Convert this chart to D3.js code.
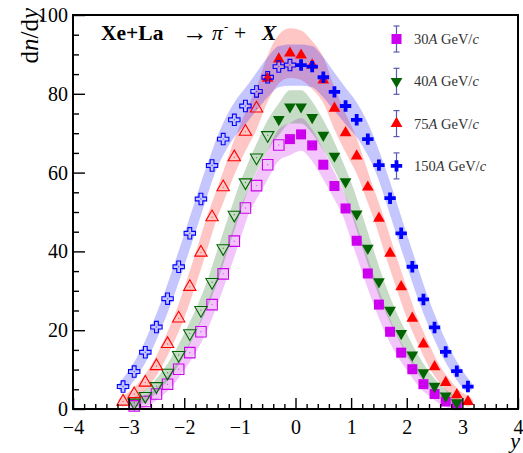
<!DOCTYPE html>
<html>
<head>
<meta charset="utf-8">
<script src="https://cdn.jsdelivr.net/npm/d3@7"></script>
<style>
  body { margin: 0; background: #fff; }
  svg { display: block; font-family: 'Liberation Serif', 'DejaVu Serif', serif; }
</style>
</head>
<body>
<svg id="chart" width="523" height="453"></svg>
<script>
// beam momenta (A GeV/c)
const energies = ['30', '40', '75', '150'];

// measured points (filled markers)
const rap30 = [-0.1, 0.1, 0.3, 0.5, 0.7, 0.9, 1.1, 1.3, 1.5, 1.7, 1.9, 2.1, 2.3, 2.5, 2.7, 2.9];
const val30 = [68.5, 69.7, 66.9, 62.0, 56.6, 50.9, 42.7, 34.4, 26.5, 19.6, 14.3, 10.1, 6.3, 3.8, 1.9, 1.0];
const rap40 = [-0.3, -0.1, 0.1, 0.3, 0.5, 0.7, 0.9, 1.1, 1.3, 1.5, 1.7, 1.9, 2.1, 2.3, 2.5, 2.7, 2.9];
const val40 = [73.5, 76.7, 76.7, 74.0, 69.5, 64.2, 57.7, 49.5, 40.8, 32.3, 25.1, 19.2, 13.7, 9.2, 5.8, 3.3, 1.6];
const rap75 = [-0.5, -0.3, -0.1, 0.1, 0.3, 0.5, 0.7, 0.9, 1.1, 1.3, 1.5, 1.7, 1.9, 2.1, 2.3, 2.5, 2.7, 2.9, 3.1];
const val75 = [83.9, 88.8, 90.3, 89.8, 87.3, 83.5, 76.3, 70.1, 64.2, 56.3, 48.4, 39.5, 31.0, 23.0, 16.5, 10.7, 6.7, 3.6, 1.9];
const rap150 = [0.1, 0.3, 0.5, 0.7, 0.9, 1.1, 1.3, 1.5, 1.7, 1.9, 2.1, 2.3, 2.5, 2.7, 2.9, 3.1];
const val150 = [87.3, 86.9, 84.2, 80.5, 76.9, 73.4, 68.5, 61.9, 53.5, 44.6, 36.1, 27.8, 20.7, 14.5, 9.6, 5.7];

// reflected points (open markers)
const rap30r = [-0.3, -0.5, -0.7, -0.9, -1.1, -1.3, -1.5, -1.7, -1.9, -2.1, -2.3, -2.5, -2.7, -2.9];
const val30r = [67.0, 62.0, 56.7, 51.0, 42.6, 34.3, 26.5, 19.6, 14.3, 10.1, 6.3, 3.8, 1.9, 0.8];
const rap40r = [-0.5, -0.7, -0.9, -1.1, -1.3, -1.5, -1.7, -1.9, -2.1, -2.3, -2.5, -2.7, -2.9];
const val40r = [69.5, 63.8, 57.5, 49.3, 40.8, 32.2, 25.1, 19.2, 13.7, 9.2, 5.8, 3.3, 1.6];
const rap75r = [-0.7, -0.9, -1.1, -1.3, -1.5, -1.7, -1.9, -2.1, -2.3, -2.5, -2.7, -2.9, -3.1];
const val75r = [76.3, 70.4, 63.9, 56.3, 48.7, 39.7, 31.0, 23.0, 16.5, 10.9, 6.7, 3.8, 1.9];
const rap150r = [-0.1, -0.3, -0.5, -0.7, -0.9, -1.1, -1.3, -1.5, -1.7, -1.9, -2.1, -2.3, -2.5, -2.7, -2.9, -3.1];
const val150r = [87.3, 86.9, 84.2, 80.6, 76.9, 73.4, 68.5, 61.8, 53.3, 44.6, 36.1, 28.0, 20.8, 14.4, 9.5, 5.7];

// relative width of the shaded bands
const bandFrac = [0.06, 0.055, 0.07, 0.06];

const xTicks = [-4, -3, -2, -1, 0, 1, 2, 3, 4];
const yTicks = [0, 20, 40, 60, 80, 100];

const pLeft = 73, pRight = 518, pTop = 15, pBottom = 409;
const svg = d3.select('#chart');

const x = d3.scaleLinear().domain([-4, 4]).range([pLeft, pRight]);
const y = d3.scaleLinear().domain([0, 100]).range([pBottom, pTop]);

const series = [
  { fx: rap30, fy: val30, ox: rap30r, oy: val30r, color: '#cc00ee', shape: 'square' },
  { fx: rap40, fy: val40, ox: rap40r, oy: val40r, color: '#006400', shape: 'tridown' },
  { fx: rap75, fy: val75, ox: rap75r, oy: val75r, color: '#ff0000', shape: 'triup' },
  { fx: rap150, fy: val150, ox: rap150r, oy: val150r, color: '#0000ff', shape: 'cross' },
];

function symbolPath(shape, open) {
  if (shape === 'square') return d3.symbol(d3.symbolSquare, open ? 110 : 100)();
  if (shape === 'cross') return d3.symbol(d3.symbolCross, 72)();
  return d3.symbol(d3.symbolTriangle, open ? 66 : 60)();
}
function markerTransform(shape, px, py) {
  return shape === 'tridown' ? `translate(${px},${py}) rotate(180)` : `translate(${px},${py})`;
}

svg.append('defs').append('clipPath').attr('id', 'plotclip')
  .append('rect').attr('x', pLeft).attr('y', pTop).attr('width', pRight - pLeft).attr('height', pBottom - pTop);

// shaded bands
const bands = svg.append('g').attr('clip-path', 'url(#plotclip)');
series.forEach((s, i) => {
  const pts = s.fx.map((d, j) => [d, s.fy[j]]).concat(s.ox.map((d, j) => [d, s.oy[j]]))
    .sort((a, b) => a[0] - b[0]);
  const g = bands.append('g').attr('opacity', 0.22);
  g.append('path')
    .attr('d', d3.area().x((d) => x(d[0])).y0((d) => y(d[1] * (1 - bandFrac[i]))).y1((d) => y(d[1] * (1 + bandFrac[i])))
      .curve(d3.curveMonotoneX)(pts))
    .attr('fill', s.color);
  g.append('path')
    .attr('d', d3.line().x((d) => x(d[0])).y((d) => y(d[1])).curve(d3.curveMonotoneX)(pts))
    .attr('fill', 'none')
    .attr('stroke', s.color)
    .attr('stroke-width', 10)
    .attr('stroke-linecap', 'round')
    .attr('stroke-linejoin', 'round');
});

// markers
series.forEach((s) => {
  const g = svg.append('g');
  g.selectAll('.open')
    .data(s.ox.map((d, j) => [d, s.oy[j]]))
    .enter()
    .append('path')
    .attr('class', 'open')
    .attr('d', symbolPath(s.shape, true))
    .attr('transform', (d) => markerTransform(s.shape, x(d[0]), y(d[1])))
    .attr('fill', 'white')
    .attr('fill-opacity', 0)
    .attr('stroke', s.color)
    .attr('stroke-width', 1.1);
  g.selectAll('.dot')
    .data(s.ox.map((d, j) => [d, s.oy[j]]))
    .enter()
    .append('circle')
    .attr('cx', (d) => x(d[0]))
    .attr('cy', (d) => y(d[1]))
    .attr('r', 0.7)
    .attr('fill', s.color)
    .attr('opacity', 0.6);
  g.selectAll('.filled')
    .data(s.fx.map((d, j) => [d, s.fy[j]]))
    .enter()
    .append('path')
    .attr('class', 'filled')
    .attr('d', symbolPath(s.shape, false))
    .attr('transform', (d) => markerTransform(s.shape, x(d[0]), y(d[1])))
    .attr('fill', s.color);
});

// axes
const xAxis = svg.append('g')
  .attr('transform', `translate(0,${pBottom})`)
  .call(d3.axisBottom(x).tickValues(xTicks).tickSize(-11).tickPadding(11));
svg.append('g')
  .attr('transform', `translate(0,${pBottom})`)
  .call(d3.axisBottom(x).tickValues(d3.range(-40, 41, 2).map((d) => d / 10).filter((d) => !xTicks.includes(d)))
    .tickSize(-5).tickFormat(''));
const yAxis = svg.append('g')
  .attr('transform', `translate(${pLeft},0)`)
  .call(d3.axisLeft(y).tickValues(yTicks).tickSize(-12).tickPadding(5));
svg.append('g')
  .attr('transform', `translate(${pLeft},0)`)
  .call(d3.axisLeft(y).tickValues(d3.range(0, 101, 5).filter((d) => !yTicks.includes(d))).tickSize(-6).tickFormat(''));

svg.selectAll('.domain').remove();
svg.selectAll('.tick line').attr('stroke', '#000').attr('stroke-width', 1.4);
[xAxis, yAxis].forEach((a) => a.selectAll('text')
  .attr('font-family', "'Liberation Serif', serif")
  .attr('font-size', 20)
  .attr('fill', '#000'));

svg.append('rect')
  .attr('x', pLeft).attr('y', pTop)
  .attr('width', pRight - pLeft).attr('height', pBottom - pTop)
  .attr('fill', 'none').attr('stroke', '#000').attr('stroke-width', 2);

// axis titles
const yTitle = svg.append('text')
  .attr('transform', 'translate(38,8) rotate(-90)')
  .attr('text-anchor', 'end')
  .attr('font-size', 25);
yTitle.append('tspan').text('d');
yTitle.append('tspan').attr('font-style', 'italic').text('n');
yTitle.append('tspan').text('/d');
yTitle.append('tspan').attr('font-style', 'italic').text('y');

svg.append('text')
  .attr('x', 520).attr('y', 448)
  .attr('text-anchor', 'end')
  .attr('font-size', 22)
  .attr('font-style', 'italic')
  .text('y');

// reaction label
const title = svg.append('g').attr('font-size', 21.5);
title.append('text').attr('x', 101).attr('y', 40).attr('font-weight', 'bold').text('Xe+La');
title.append('text').attr('x', 182).attr('y', 41).attr('font-size', 26).text('\u2192');
title.append('text').attr('x', 212).attr('y', 40).attr('font-style', 'italic').text('\u03c0');
title.append('text').attr('x', 224).attr('y', 31).attr('font-size', 13).text('-');
title.append('text').attr('x', 234).attr('y', 40).text('+');
title.append('text').attr('x', 262).attr('y', 40).attr('font-weight', 'bold').attr('font-style', 'italic').text('X');

// legend
const legend = svg.append('g');
series.forEach((s, i) => {
  const ly = 39 + i * 42.3;
  const lx = 396.5;
  const g = legend.append('g');
  g.append('line').attr('x1', lx).attr('x2', lx).attr('y1', ly - 13).attr('y2', ly + 13)
    .attr('stroke', '#5a5ab4').attr('stroke-width', 1.2);
  [ly - 13, ly + 13].forEach((cy) => g.append('line')
    .attr('x1', lx - 3).attr('x2', lx + 3).attr('y1', cy).attr('y2', cy)
    .attr('stroke', '#5a5ab4').attr('stroke-width', 1.2));
  g.append('path')
    .attr('d', symbolPath(s.shape, false))
    .attr('transform', markerTransform(s.shape, lx, ly))
    .attr('fill', s.color);
  const t = g.append('text').attr('x', 414).attr('y', ly + 5).attr('font-size', 14.5).attr('fill', '#333');
  t.append('tspan').text(energies[i]);
  t.append('tspan').attr('font-style', 'italic').text('A');
  t.append('tspan').text(' GeV/');
  t.append('tspan').attr('font-style', 'italic').text('c');
});
</script>
</body>
</html>
